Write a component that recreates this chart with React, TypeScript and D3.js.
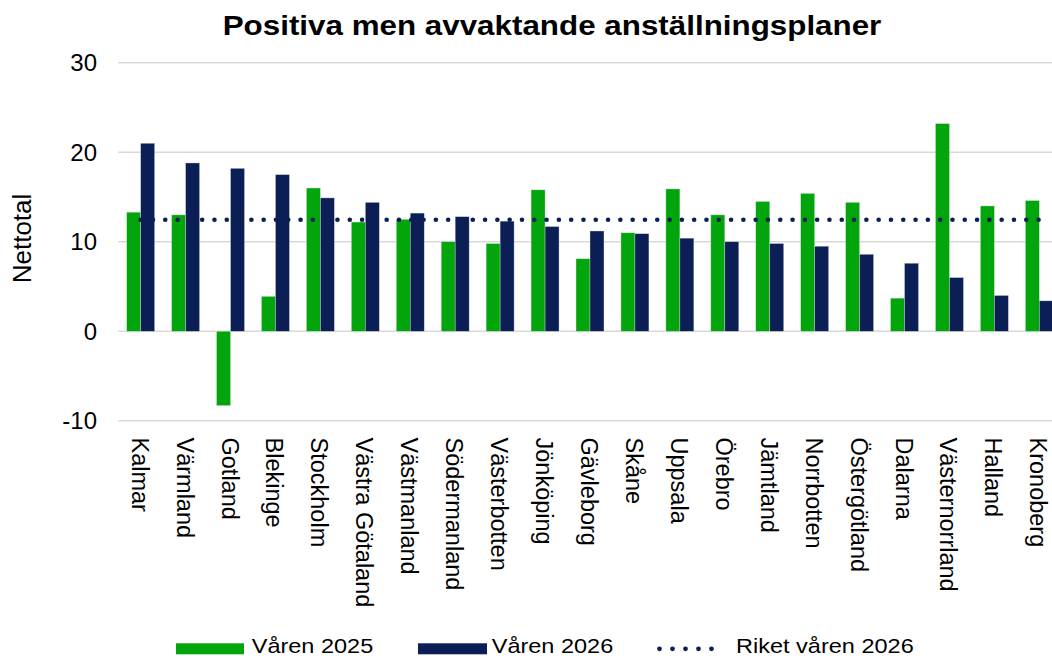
import React from 'react';
import * as d3 from 'd3';

const regions = [
  'Kalmar', 'Värmland', 'Gotland', 'Blekinge', 'Stockholm', 'Västra Götaland',
  'Västmanland', 'Södermanland', 'Västerbotten', 'Jönköping', 'Gävleborg', 'Skåne',
  'Uppsala', 'Örebro', 'Jämtland', 'Norrbotten', 'Östergötland', 'Dalarna',
  'Västernorrland', 'Halland', 'Kronoberg',
];
const varen2025 = [13.3, 13.0, -8.3, 3.9, 16.0, 12.2, 12.5, 10.0, 9.8, 15.8, 8.1, 11.0,
  15.9, 13.0, 14.5, 15.4, 14.4, 3.7, 23.2, 14.0, 14.6];
const varen2026 = [21.0, 18.8, 18.2, 17.5, 14.9, 14.4, 13.2, 12.8, 12.3, 11.7, 11.2, 10.9,
  10.4, 10.0, 9.8, 9.5, 8.6, 7.6, 6.0, 4.0, 3.4];
const riket2026 = 12.45;
const yTicks = [-10, 0, 10, 20, 30];
const legendItems = ['Våren 2025', 'Våren 2026', 'Riket våren 2026'];

const GREEN = '#02a50b';
const NAVY = '#0b1e55';
const FONT = 'Liberation Sans, Arial, sans-serif';

export default function App() {
  const width = 1052;
  const height = 658;
  const plot = { left: 118.2, right: 1061.8, top: 62.7, bottom: 420.8 };

  const x = d3.scaleBand<string>()
    .domain(regions)
    .range([plot.left, plot.right])
    .paddingInner(0.378)
    .paddingOuter(0.189);
  const bw = x.bandwidth() / 2;

  const y = d3.scaleLinear().domain([-10, 30]).range([plot.bottom, plot.top]);

  const center = (r: string) => (x(r) as number) + x.bandwidth() / 2;
  const riketLine = d3.line<string>().x(d => center(d)).y(() => y(riket2026));

  const bar = (r: string, v: number, fill: string, offset: number) => (
    <rect
      key={r + offset}
      x={(x(r) as number) + offset * bw}
      y={y(Math.max(0, v))}
      width={bw}
      height={Math.abs(y(v) - y(0))}
      fill={fill}
      stroke="#dfe6df"
      strokeOpacity={0.6}
      strokeWidth={0.6}
    />
  );

  return (
    <svg width={width} height={height} style={{ position: 'absolute', left: 0, top: 0, background: '#fff' }}
      fontFamily={FONT}>
      <text transform="translate(552,34.5) scale(1.12,1)" textAnchor="middle" fontSize={28} fontWeight="bold" fill="#000">
        Positiva men avvaktande anställningsplaner
      </text>

      {/* grid + y axis */}
      {yTicks.map(t => (
        <g key={t}>
          <line x1={plot.left} x2={width} y1={y(t)} y2={y(t)} stroke="#d9d9d9" strokeWidth={1.5} />
          <text x={97} y={y(t) + 8.5} textAnchor="end" fontSize={24} fill="#000">{t}</text>
        </g>
      ))}
      <text transform="translate(31,238.5) rotate(-90)" textAnchor="middle" fontSize={26} fill="#000">
        Nettotal
      </text>

      {/* bars */}
      {regions.map((r, i) => bar(r, varen2025[i], GREEN, 0))}
      {regions.map((r, i) => bar(r, varen2026[i], NAVY, 1))}

      {/* riket line */}
      <path d={riketLine(regions) || ''} fill="none" stroke={NAVY} strokeWidth={4.6}
        strokeLinecap="round" strokeDasharray="0 12.3" />

      {/* x labels */}
      {regions.map(r => (
        <text key={r} transform={`translate(${center(r) - 9},437.5) rotate(90)`} fontSize={23.5} fill="#000">
          {r}
        </text>
      ))}

      {/* legend */}
      <g fontSize={21} fill="#000">
        <rect x={176} y={643.3} width={68} height={11} fill={GREEN} />
        <text transform="translate(251.7,653.3) scale(1.12,1)">{legendItems[0]}</text>
        <rect x={418} y={643.3} width={69} height={11} fill={NAVY} />
        <text transform="translate(491.7,653.3) scale(1.12,1)">{legendItems[1]}</text>
        <line x1={659.5} x2={724.5} y1={648.8} y2={648.8} stroke={NAVY} strokeWidth={4.8}
          strokeLinecap="round" strokeDasharray="0 13" />
        <text transform="translate(736,653.3) scale(1.12,1)">{legendItems[2]}</text>
      </g>
    </svg>
  );
}
